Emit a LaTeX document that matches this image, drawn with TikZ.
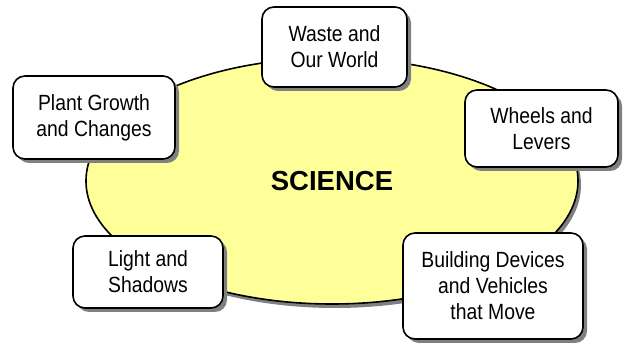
\documentclass[tikz,border=0pt]{standalone}
\usepackage{fontspec}
\usepackage{xcolor}
\usepackage{tikz}
\usetikzlibrary{shapes, shadows, positioning}
\setmainfont{Liberation Sans}
\newfontfamily\topicfont{Liberation Sans}[FakeStretch=0.88]
\definecolor{pale yellow}{RGB}{255,255,153}

\begin{document}
\begin{tikzpicture}[x=1pt,y=-1pt,
topic/.style={draw, line width=1.6pt, rounded corners=12pt, fill=white, align=center,
  inner sep=0pt, font=\topicfont\fontsize{22}{26}\selectfont,
  drop shadow={shadow xshift=4pt, shadow yshift=-4pt, fill=gray, opacity=1}},
hub/.style={ellipse, draw, line width=1.6pt, fill=pale yellow, inner sep=0pt,
  font=\bfseries\fontsize{27.5}{30}\selectfont,
  drop shadow={shadow xshift=3pt, shadow yshift=-4pt, fill=gray, opacity=1}}]

\useasboundingbox (0,0) rectangle (632,344);

\node[hub, minimum width=492pt, minimum height=246pt] (science) at (332,181) {SCIENCE};

\node[topic, minimum width=145pt, minimum height=80pt] (waste) at (334.5,47) {Waste and\\Our World};
\node[topic, minimum width=162pt, minimum height=83pt] (plant) at (94,117.5) {Plant Growth\\and Changes};
\node[topic, minimum width=153pt, minimum height=77pt] (wheels) at (541.5,128.5) {Wheels and\\Levers};
\node[topic, minimum width=150pt, minimum height=72pt] (light) at (148,272) {Light and\\Shadows};
\node[topic, minimum width=180pt, minimum height=106pt] (devices) at (493,286) {Building Devices\\and Vehicles\\that Move};
\end{tikzpicture}
\end{document}
